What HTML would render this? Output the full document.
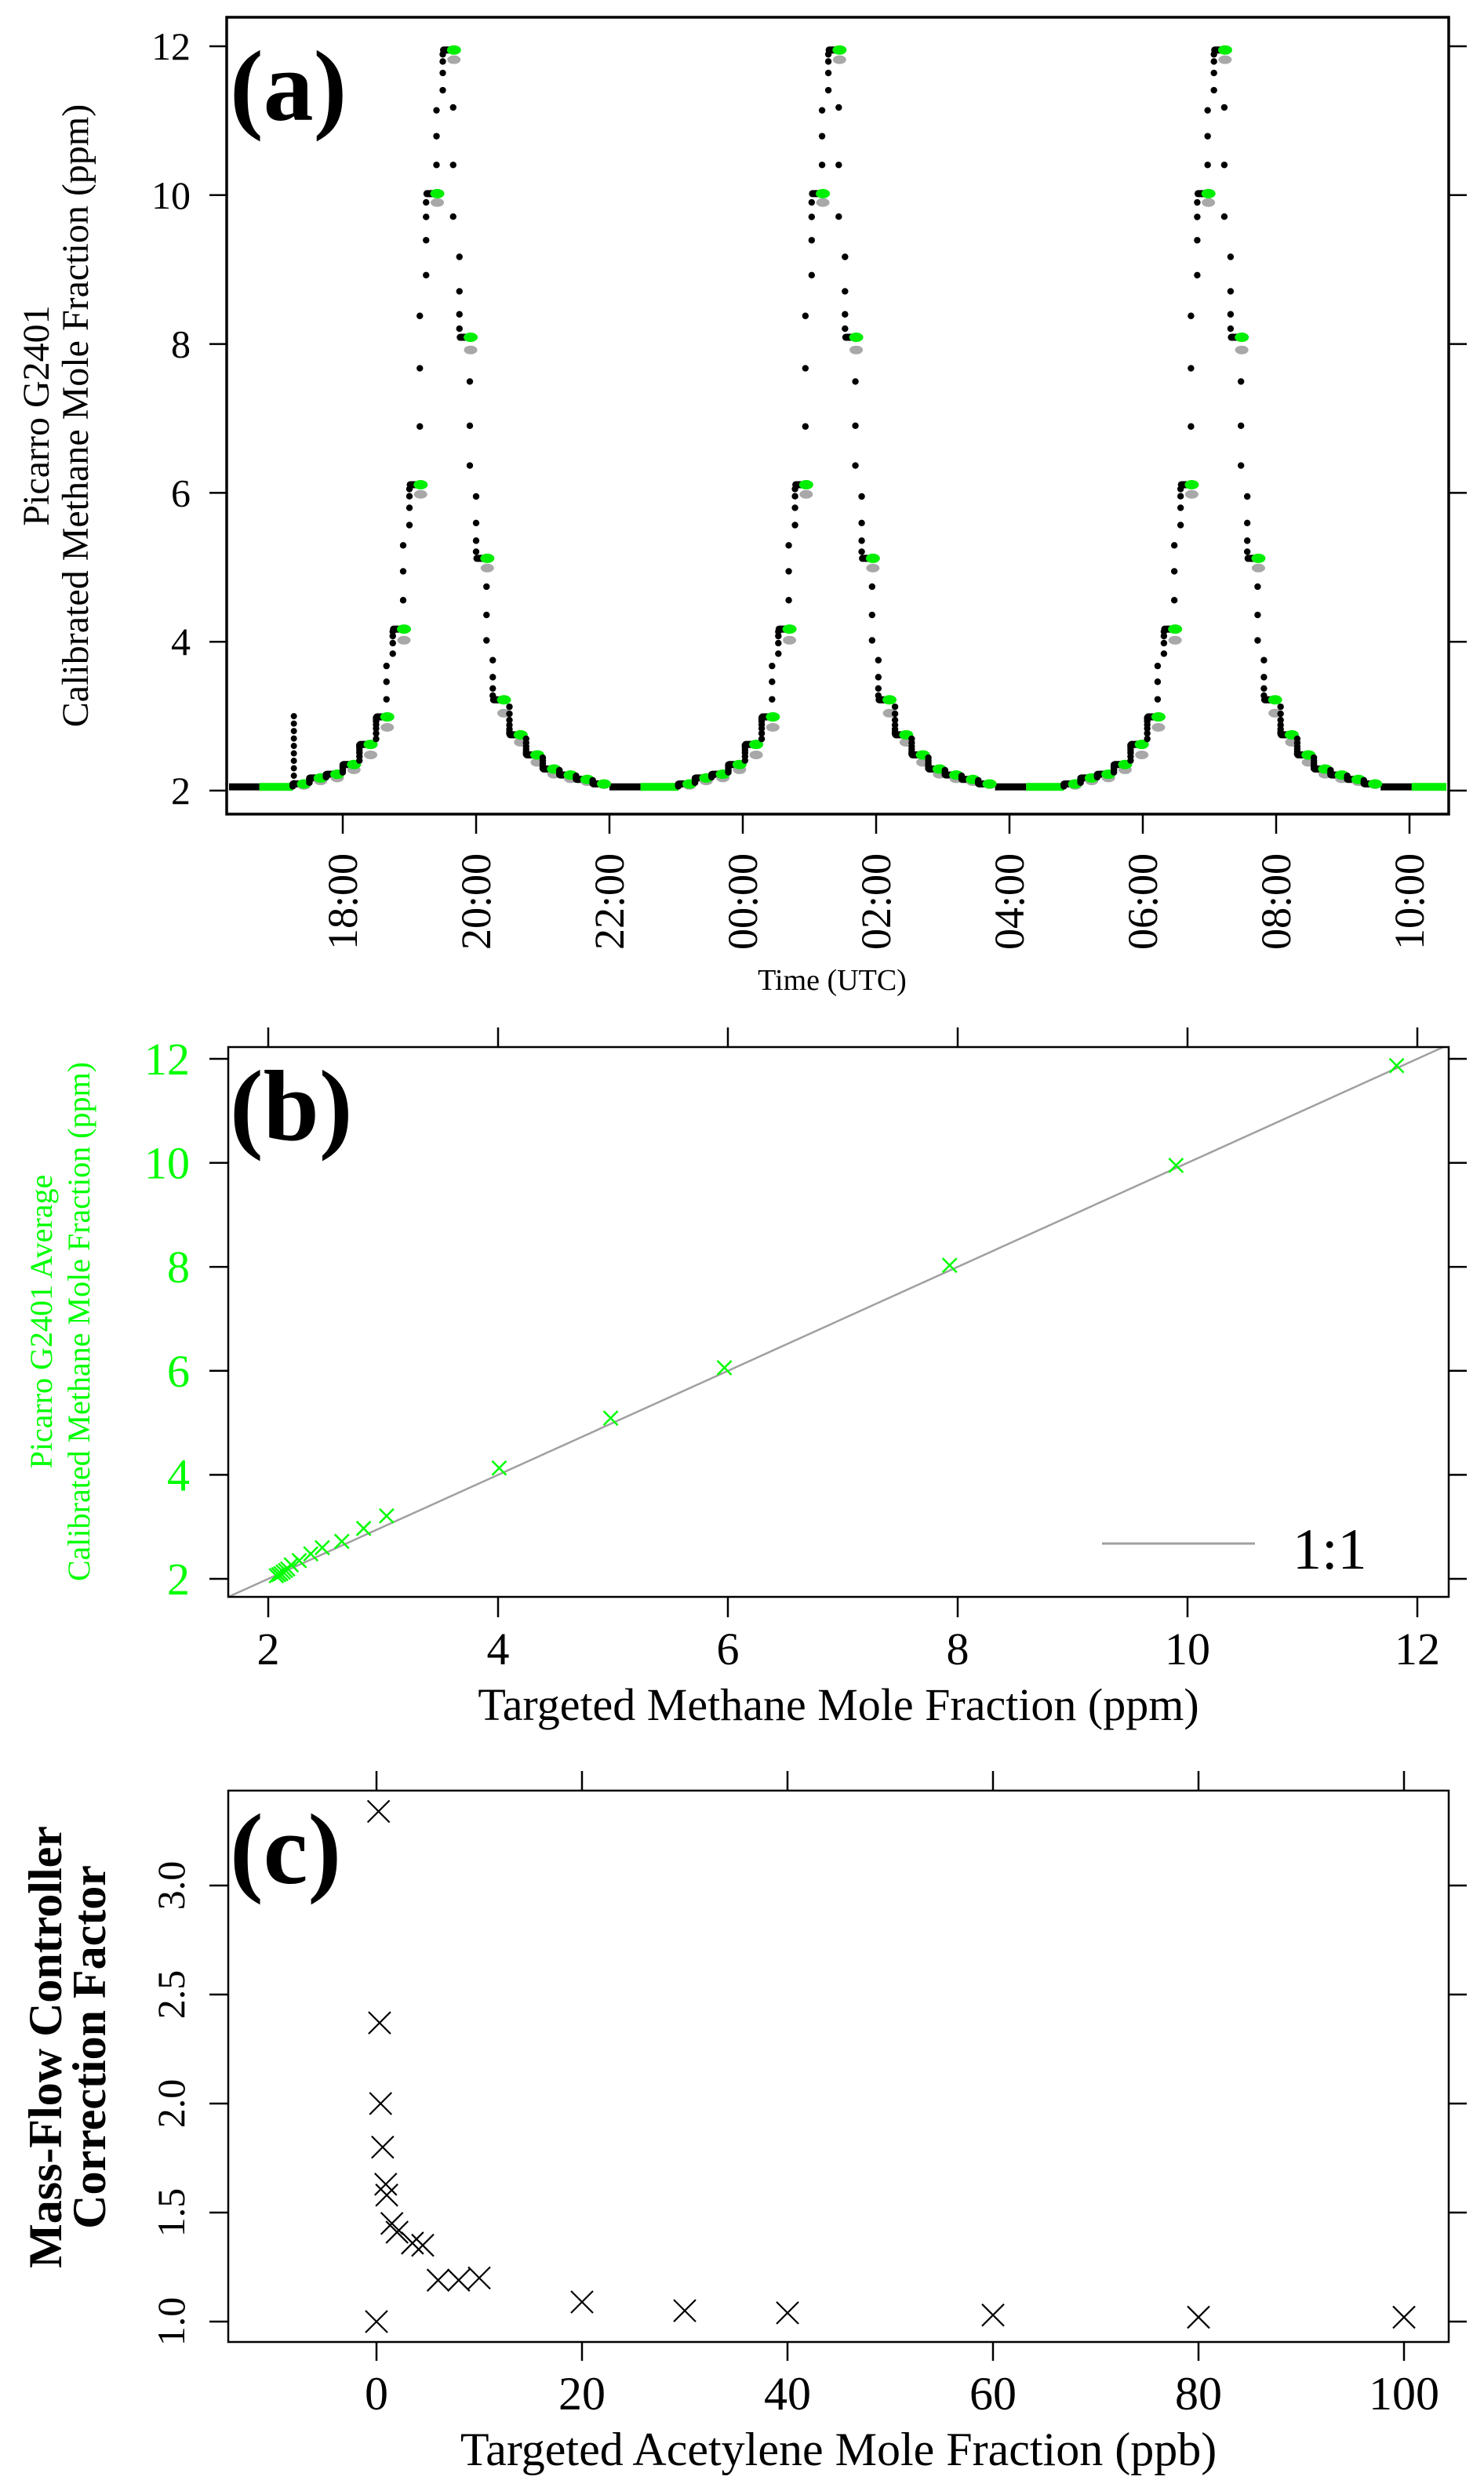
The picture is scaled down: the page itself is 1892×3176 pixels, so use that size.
<!DOCTYPE html>
<html><head><meta charset="utf-8">
<style>
html,body{margin:0;padding:0;background:#fff;}
svg{display:block;font-family:"Liberation Serif","Times New Roman",serif;}
</style></head>
<body>
<svg id="fig" width="1892" height="3176" viewBox="0 0 1892 3176" xmlns="http://www.w3.org/2000/svg">
<rect x="0" y="0" width="1892" height="3176" fill="#fff"/>
<g id="pa"></g>
<g id="pb"></g>
<g id="pc"></g>
</svg>
<script>
// ---------- Panel (a) data ----------
const cycleStartMin = [75, 422, 769];            // minutes after 16:00
const stepMinutes = 15;
const stepAvg = [2.09, 2.17, 2.22, 2.35, 2.62, 2.99, 4.17, 6.11, 10.02, 11.95, 8.09, 5.12, 3.22, 2.75, 2.48, 2.29, 2.21, 2.15, 2.09];
const stepTarget = [2.07, 2.13, 2.17, 2.28, 2.48, 2.85, 4.02, 5.98, 9.90, 11.82, 7.92, 4.99, 3.04, 2.65, 2.38, 2.22, 2.16, 2.12, 2.08];
const baselineLevel = 2.05;
const baselineBlackSpans = [[15, 45], [360, 388], [707, 735], [1054, 1082]];
const baselineGreenSpans = [[45, 75], [388, 422], [735, 769], [1082, 1118]];
const spikeMin = 76;
const spikeValues = [2.1, 2.2, 2.3, 2.4, 2.5, 2.6, 2.7, 2.8, 2.9, 3.0];
const timeTickMin = [120, 240, 360, 480, 600, 720, 840, 960, 1080];
const timeTickLabels = ["18:00", "20:00", "22:00", "00:00", "02:00", "04:00", "06:00", "08:00", "10:00"];
const yTicksA = [2, 4, 6, 8, 10, 12];

// ---------- Panel (b) data ----------
const targetB = [2.07, 2.09, 2.11, 2.13, 2.15, 2.17, 2.20, 2.27, 2.37, 2.47, 2.64, 2.83, 3.03, 4.01, 4.98, 5.97, 7.93, 9.90, 11.82];
const measuredB = [2.06, 2.08, 2.10, 2.13, 2.16, 2.19, 2.27, 2.35, 2.48, 2.60, 2.72, 2.97, 3.21, 4.13, 5.09, 6.06, 8.03, 9.95, 11.87];
const ticksB = [2, 4, 6, 8, 10, 12];

// ---------- Panel (c) data ----------
const acetyleneC = [0, 0.2, 0.3, 0.4, 0.6, 0.9, 1.0, 1.5, 2.0, 3.5, 4.5, 6, 8, 10, 20, 30, 40, 60, 80, 100];
const factorC = [1.0, 3.34, 2.37, 2.0, 1.80, 1.63, 1.58, 1.45, 1.41, 1.36, 1.35, 1.19, 1.19, 1.20, 1.09, 1.05, 1.04, 1.03, 1.02, 1.02];
const xTicksC = [0, 20, 40, 60, 80, 100];
const yTicksC = [1.0, 1.5, 2.0, 2.5, 3.0];
const yTickLabelsC = ["1.0", "1.5", "2.0", "2.5", "3.0"];

const NS = "http://www.w3.org/2000/svg";
function mk(parent, tag, attrs, text) {
  const e = document.createElementNS(NS, tag);
  for (const k in attrs) e.setAttribute(k, attrs[k]);
  if (text !== undefined) e.textContent = text;
  parent.appendChild(e);
  return e;
}

// ================= Panel A =================
const pa = document.getElementById('pa');
const xA = m => 437 + (m - 120) / 60 * 85;
const yA = v => 1008 - (v - 2) * 94.9;
const A = {l: 289, t: 22, r: 1847, b: 1038};

let e;
yTicksA.forEach(v => {
  e = mk(pa, 'line', {x1: 267, x2: A.l, y1: yA(v), y2: yA(v), stroke: '#000', 'stroke-width': 2.5});
  
  
  e = mk(pa, 'line', {x1: A.r, x2: 1870, y1: yA(v), y2: yA(v), stroke: '#000', 'stroke-width': 2.5});
  
  
  e = mk(pa, 'text', {x: 243, y: yA(v) + 17, 'text-anchor': 'end', 'font-size': 50}, String(v));
  
  
});
timeTickMin.forEach((m, i) => {
  e = mk(pa, 'line', {x1: xA(m), x2: xA(m), y1: A.b, y2: 1063, stroke: '#000', 'stroke-width': 2.5});
  
  
  e = mk(pa, 'text', {x: 0, y: 0, 'text-anchor': 'end', 'font-size': 54,
    transform: `translate(${xA(m) + 18},1088) rotate(-90)`}, timeTickLabels[i]);
  
  
});
e = mk(pa, 'text', {x: 0, y: 0, 'text-anchor': 'middle', 'font-size': 48, transform: 'translate(62,530) rotate(-90)'}, 'Picarro G2401');


e = mk(pa, 'text', {x: 0, y: 0, 'text-anchor': 'middle', 'font-size': 48, transform: 'translate(112,530) rotate(-90)'}, 'Calibrated Methane Mole Fraction (ppm)');


e = mk(pa, 'text', {x: 1061, y: 1262, 'text-anchor': 'middle', 'font-size': 38}, 'Time (UTC)');



const dataA = mk(pa, 'g', {});


baselineBlackSpans.forEach(s => {
  e = mk(dataA, 'line', {x1: Math.max(A.l + 3, xA(s[0])), x2: xA(s[1]), y1: yA(baselineLevel), y2: yA(baselineLevel), stroke: '#000', 'stroke-width': 9});
  
  
});
baselineGreenSpans.forEach(s => {
  e = mk(dataA, 'line', {x1: xA(s[0]), x2: Math.min(A.r - 3, xA(s[1])), y1: yA(baselineLevel), y2: yA(baselineLevel), stroke: '#00ee00', 'stroke-width': 10});
  
  
});
spikeValues.forEach(v => {
  e = mk(dataA, 'circle', {cx: xA(spikeMin), cy: yA(v), r: 4, fill: '#000'});
  
  
});
const fracs = [0.2, 0.4, 0.58, 0.72, 0.84, 0.92, 0.97];
cycleStartMin.forEach(c0 => {
  let prev = baselineLevel;
  stepAvg.forEach((lvl, i) => {
    const s = c0 + i * stepMinutes, en = s + stepMinutes;
    const xs = xA(s), xe = xA(en);
    const big = Math.abs(lvl - prev) > 0.5;
    fracs.forEach((f, k) => {
      const dx = big && k < 3 ? -8 : 0;
      e = mk(dataA, 'circle', {cx: xs + dx, cy: yA(prev + (lvl - prev) * f), r: 4.2, fill: '#000'});
      
      
    });
    e = mk(dataA, 'line', {x1: xs + 1, x2: xe - 4, y1: yA(lvl), y2: yA(lvl), stroke: '#000', 'stroke-width': 9, 'stroke-linecap': 'round'});
    
    
    e = mk(dataA, 'ellipse', {cx: xe - 7, cy: yA(stepTarget[i]), rx: 8.5, ry: 5.5, fill: '#a8a8a8'});
    
    
    e = mk(dataA, 'ellipse', {cx: xe - 7, cy: yA(lvl), rx: 9, ry: 6, fill: '#00ee00'});
    
    
    prev = lvl;
  });
});
e = mk(pa, 'rect', {x: A.l, y: A.t, width: A.r - A.l, height: A.b - A.t, fill: 'none', stroke: '#000', 'stroke-width': 3.5});


e = mk(pa, 'text', {x: 293, y: 153, 'font-size': 128, 'font-weight': 'bold'}, '(a)');



// ================= Panel B =================
const pb = document.getElementById('pb');
const xB = v => 342 + (v - 2) * 146.5;
const yB = v => 2013 - (v - 2) * 66.3;
const B = {l: 291, t: 1335, r: 1847, b: 2036};
ticksB.forEach(v => {
  e = mk(pb, 'line', {x1: xB(v), x2: xB(v), y1: B.b, y2: 2062, stroke: '#000', 'stroke-width': 2.5});
  
  
  e = mk(pb, 'line', {x1: xB(v), x2: xB(v), y1: 1310, y2: B.t, stroke: '#000', 'stroke-width': 2.5});
  
  
  e = mk(pb, 'text', {x: xB(v), y: 2122, 'text-anchor': 'middle', 'font-size': 58}, String(v));
  
  
  e = mk(pb, 'line', {x1: 267, x2: B.l, y1: yB(v), y2: yB(v), stroke: '#000', 'stroke-width': 2.5});
  
  
  e = mk(pb, 'line', {x1: B.r, x2: 1870, y1: yB(v), y2: yB(v), stroke: '#000', 'stroke-width': 2.5});
  
  
  e = mk(pb, 'text', {x: 242, y: yB(v) + 20, 'text-anchor': 'end', 'font-size': 58, fill: '#00ff00'}, String(v));
  
  
});
e = mk(pb, 'line', {x1: xB(1.655), y1: yB(1.655), x2: xB(12.23), y2: yB(12.23), stroke: '#a0a0a0', 'stroke-width': 2.5});


targetB.forEach((t, i) => {
  const cx = xB(t), cy = yB(measuredB[i]), h = 9;
  e = mk(pb, 'path', {d: `M${cx - h},${cy - h}L${cx + h},${cy + h}M${cx - h},${cy + h}L${cx + h},${cy - h}`, stroke: '#00ff00', 'stroke-width': 2.5, fill: 'none'});
  
  
});
e = mk(pb, 'line', {x1: 1405, x2: 1600, y1: 1968, y2: 1968, stroke: '#a0a0a0', 'stroke-width': 3});


e = mk(pb, 'text', {x: 1648, y: 2000, 'font-size': 74}, '1:1');


e = mk(pb, 'rect', {x: B.l, y: B.t, width: B.r - B.l, height: B.b - B.t, fill: 'none', stroke: '#000', 'stroke-width': 2.5});


e = mk(pb, 'text', {x: 293, y: 1453, 'font-size': 128, 'font-weight': 'bold'}, '(b)');


e = mk(pb, 'text', {x: 1069, y: 2193, 'text-anchor': 'middle', 'font-size': 58}, 'Targeted Methane Mole Fraction (ppm)');


e = mk(pb, 'text', {x: 0, y: 0, 'text-anchor': 'middle', 'font-size': 40, fill: '#00ff00', transform: 'translate(66,1685) rotate(-90)'}, 'Picarro G2401 Average');


e = mk(pb, 'text', {x: 0, y: 0, 'text-anchor': 'middle', 'font-size': 40, fill: '#00ff00', transform: 'translate(114,1685) rotate(-90)'}, 'Calibrated Methane Mole Fraction (ppm)');



// ================= Panel C =================
const pc = document.getElementById('pc');
const xC = v => 480 + v * 13.1;
const yC = v => 2960 - (v - 1) * 278;
const C = {l: 291, t: 2283, r: 1847, b: 2986};
xTicksC.forEach(v => {
  e = mk(pc, 'line', {x1: xC(v), x2: xC(v), y1: C.b, y2: 3010, stroke: '#000', 'stroke-width': 2.5});
  
  
  e = mk(pc, 'line', {x1: xC(v), x2: xC(v), y1: 2258, y2: C.t, stroke: '#000', 'stroke-width': 2.5});
  
  
  e = mk(pc, 'text', {x: xC(v), y: 3072, 'text-anchor': 'middle', 'font-size': 60}, String(v));
  
  
});
yTicksC.forEach((v, i) => {
  e = mk(pc, 'line', {x1: 267, x2: C.l, y1: yC(v), y2: yC(v), stroke: '#000', 'stroke-width': 2.5});
  
  
  e = mk(pc, 'line', {x1: C.r, x2: 1870, y1: yC(v), y2: yC(v), stroke: '#000', 'stroke-width': 2.5});
  
  
  e = mk(pc, 'text', {x: 0, y: 0, 'text-anchor': 'middle', 'font-size': 50, transform: `translate(235,${yC(v)}) rotate(-90)`}, yTickLabelsC[i]);
  
  
});
acetyleneC.forEach((a, i) => {
  const cx = xC(a), cy = yC(factorC[i]), h = 14;
  e = mk(pc, 'path', {d: `M${cx - h},${cy - h}L${cx + h},${cy + h}M${cx - h},${cy + h}L${cx + h},${cy - h}`, stroke: '#000', 'stroke-width': 2.2, fill: 'none'});
  
  
});
e = mk(pc, 'rect', {x: C.l, y: C.t, width: C.r - C.l, height: C.b - C.t, fill: 'none', stroke: '#000', 'stroke-width': 2.5});


e = mk(pc, 'text', {x: 293, y: 2401, 'font-size': 128, 'font-weight': 'bold'}, '(c)');


e = mk(pc, 'text', {x: 1069, y: 3143, 'text-anchor': 'middle', 'font-size': 60}, 'Targeted Acetylene Mole Fraction (ppb)');


e = mk(pc, 'text', {x: 0, y: 0, 'text-anchor': 'middle', 'font-size': 60, 'font-weight': 'bold', transform: 'translate(78,2610) rotate(-90)'}, 'Mass-Flow Controller');


e = mk(pc, 'text', {x: 0, y: 0, 'text-anchor': 'middle', 'font-size': 60, 'font-weight': 'bold', transform: 'translate(134,2610) rotate(-90)'}, 'Correction Factor');


</script>
</body></html>
